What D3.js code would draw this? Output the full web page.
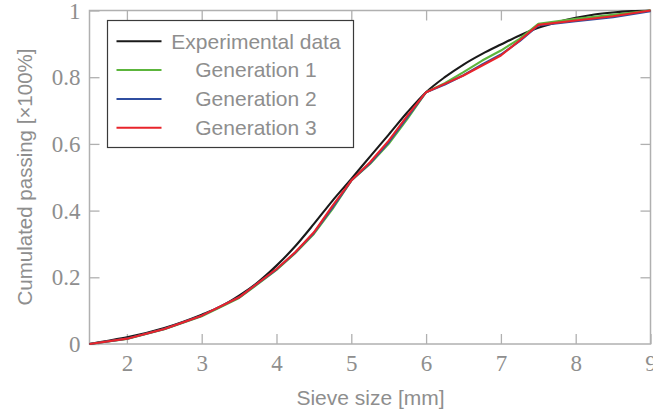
<!DOCTYPE html>
<html>
<head>
<meta charset="utf-8">
<script src="https://cdn.jsdelivr.net/npm/d3@7"></script>
<style>
  html, body { margin: 0; padding: 0; background: #fff; }
  svg { display: block; }
</style>
</head>
<body>
<svg id="chart" width="653" height="410"></svg>
<script>
// ---- data ----
const expX = [1.5, 1.75, 2.0, 2.5, 3.0, 3.25, 3.5, 3.75, 4.0, 4.25, 4.5, 4.75, 5.0, 5.25, 5.5, 5.75, 6.0, 6.25, 6.5, 6.75, 7.0, 7.25, 7.5, 7.75, 8.0, 8.25, 8.5, 8.75, 9.0];
const expY = [0, 0.01, 0.02, 0.048, 0.088, 0.112, 0.145, 0.185, 0.235, 0.293, 0.36, 0.43, 0.495, 0.562, 0.628, 0.695, 0.755, 0.8, 0.838, 0.87, 0.898, 0.925, 0.948, 0.965, 0.978, 0.988, 0.994, 0.998, 1.0];

const genX = [1.5, 2.0, 2.5, 3.0, 3.5, 4.0, 4.25, 4.5, 4.75, 5.0, 5.25, 5.5, 5.75, 6.0, 6.25, 6.5, 6.75, 7.0, 7.25, 7.5, 8.0, 8.5, 9.0];
const gen1Y = [0, 0.015, 0.044, 0.083, 0.138, 0.222, 0.272, 0.33, 0.405, 0.49, 0.54, 0.6, 0.675, 0.755, 0.782, 0.815, 0.85, 0.88, 0.915, 0.96, 0.975, 0.987, 1.0];
const gen2Y = [0, 0.016, 0.045, 0.085, 0.14, 0.224, 0.274, 0.333, 0.41, 0.49, 0.542, 0.605, 0.68, 0.755, 0.778, 0.806, 0.838, 0.868, 0.908, 0.955, 0.968, 0.98, 0.998];
const gen3Y = [0, 0.016, 0.045, 0.085, 0.14, 0.225, 0.275, 0.335, 0.415, 0.49, 0.545, 0.61, 0.685, 0.755, 0.78, 0.805, 0.835, 0.865, 0.91, 0.957, 0.97, 0.983, 1.0];

const seriesNames = ["Experimental data", "Generation 1", "Generation 2", "Generation 3"];
const seriesColors = ["#1a1a1a", "#5cb53c", "#2f4ea0", "#e8242b"];

const xTicks = [2, 3, 4, 5, 6, 7, 8, 9];
const xTickLabels = ["2", "3", "4", "5", "6", "7", "8", "9"];
const yTicks = [0, 0.2, 0.4, 0.6, 0.8, 1];
const yTickLabels = ["0", "0.2", "0.4", "0.6", "0.8", "1"];

const xLabel = "Sieve size [mm]";
const yLabel = "Cumulated passing [×100%]";

// ---- layout ----
const svg = d3.select("#chart");
const L = 89.5, R = 650.5, T = 10.5, B = 344;
const x = d3.scaleLinear().domain([1.5, 9]).range([L, R]);
const y = d3.scaleLinear().domain([0, 1]).range([B, T]);

const axisColor = "#b0b0b0";
const textColor = "#8e8e8e";
const serif = "'Liberation Serif', 'DejaVu Serif', serif";
const sans = "'Liberation Sans', Arial, sans-serif";

function styleAxis(g) {
  g.select(".domain").remove();
  g.selectAll(".tick line").attr("stroke", axisColor).attr("stroke-width", 1.3);
}

const gBottom = svg.append("g").attr("transform", `translate(0,${B})`)
  .call(d3.axisBottom(x).tickValues(xTicks).tickSizeInner(-10).tickSizeOuter(0).tickPadding(15)
    .tickFormat((d, i) => xTickLabels[i]));
styleAxis(gBottom);
gBottom.selectAll(".tick text").attr("fill", textColor).style("font-family", serif).style("font-size", "23px")
  .attr("dy", null).attr("y", 27);

const gLeft = svg.append("g").attr("transform", `translate(${L},0)`)
  .call(d3.axisLeft(y).tickValues(yTicks).tickSizeInner(-10).tickSizeOuter(0).tickPadding(9)
    .tickFormat((d, i) => yTickLabels[i]));
styleAxis(gLeft);
gLeft.selectAll(".tick text").attr("fill", textColor).style("font-family", serif).style("font-size", "23px")
  .attr("dy", "0.33em");

const gTop = svg.append("g").attr("transform", `translate(0,${T})`)
  .call(d3.axisTop(x).tickValues(xTicks.slice(0, -1)).tickSizeInner(-10).tickSizeOuter(0).tickFormat(""));
styleAxis(gTop);

const gRight = svg.append("g").attr("transform", `translate(${R},0)`)
  .call(d3.axisRight(y).tickValues(yTicks.slice(1, -1)).tickSizeInner(-10).tickSizeOuter(0).tickFormat(""));
styleAxis(gRight);

svg.append("rect").attr("x", L).attr("y", T).attr("width", R - L).attr("height", B - T)
  .attr("fill", "none").attr("stroke", axisColor).attr("stroke-width", 1.5);

svg.append("text").attr("x", (L + R) / 2 + 0.5).attr("y", 405)
  .attr("text-anchor", "middle").attr("fill", textColor)
  .style("font-family", sans).style("font-size", "21px").text(xLabel);

svg.append("text").attr("transform", `translate(32,177) rotate(-90)`)
  .attr("text-anchor", "middle").attr("fill", textColor)
  .style("font-family", sans).style("font-size", "20.5px").text(yLabel);

const straight = d3.line().x(d => x(d[0])).y(d => y(d[1]));
const smooth = d3.line().curve(d3.curveMonotoneX).x(d => x(d[0])).y(d => y(d[1]));
const seriesData = [
  d3.zip(expX, expY),
  d3.zip(genX, gen1Y),
  d3.zip(genX, gen2Y),
  d3.zip(genX, gen3Y)
];
seriesData.forEach((data, i) => {
  svg.append("path").datum(data)
    .attr("d", i === 0 ? smooth(data) : straight(data))
    .attr("fill", "none").attr("stroke", seriesColors[i]).attr("stroke-width", 2.1)
    .attr("stroke-linejoin", "round");
});

const lg = svg.append("g");
lg.append("rect").attr("x", 107.5).attr("y", 20.5).attr("width", 246).attr("height", 127)
  .attr("fill", "#fff").attr("stroke", "#3a3a3a").attr("stroke-width", 1.2);
const rowY = [41.3, 70, 99, 127.7];
seriesNames.forEach((name, i) => {
  lg.append("line").attr("x1", 116.5).attr("x2", 161.5).attr("y1", rowY[i]).attr("y2", rowY[i])
    .attr("stroke", seriesColors[i]).attr("stroke-width", 2);
  lg.append("text").attr("x", 256).attr("y", rowY[i] + 7.3)
    .attr("text-anchor", "middle").attr("fill", textColor)
    .style("font-family", sans).style("font-size", "21px").text(name);
});
</script>
</body>
</html>
